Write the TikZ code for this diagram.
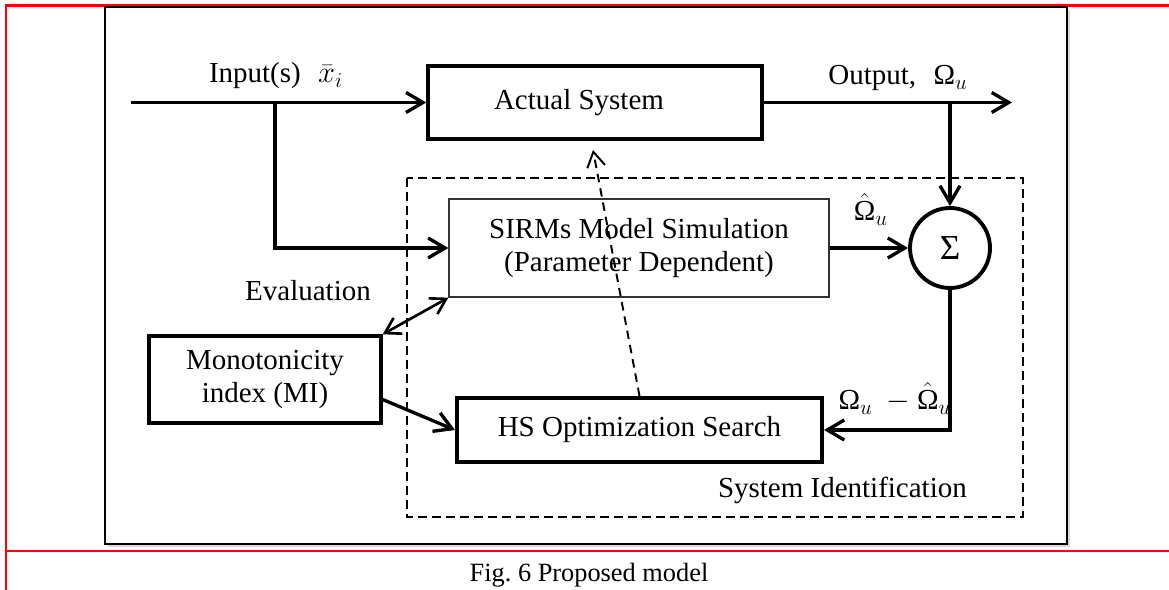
\documentclass[tikz,border=0pt]{standalone}
\usepackage{fontspec}
\setmainfont{Liberation Serif}
\usetikzlibrary{arrows.meta,calc}
\newcommand{\Om}{\hbox{Ω}}
\begin{document}
\begin{tikzpicture}[x=0.02cm,y=-0.02cm,
  txt/.style={font=\fontsize{16.5}{18.7}\selectfont},
  thickbox/.style={draw, line width=2pt, inner sep=0pt, txt, align=center},
  barb/.style={-{Straight Barb[length=0.34cm,width=0.4cm]}},
  conn/.style={line width=1.9pt, barb},
  dashframe/.style={line width=1.1pt, dash pattern=on 0.18cm off 0.1cm},
]
\useasboundingbox (0,0) rectangle (1169,590);
% page rules
\draw[red, line width=1.2pt] (6,590) -- (6,5.5) -- (1169,5.5);
\draw[red, line width=1.3pt] (6,551) -- (1169,551);
% outer frame with faint shadow
\draw[black!15, line width=1pt] (1069,10) -- (1069,546) -- (108,546);
\draw[line width=1.2pt] (105,7) rectangle (1067,544);
% system identification frame
\draw[dashframe] (407,178) rectangle (1023,517);

% blocks
\node[thickbox, minimum width=6.68cm, minimum height=1.46cm,
      label={[txt,xshift=-0.32cm]center:Actual System}] (actual) at (595,102.5) {};
\node[draw=black!80, line width=0.75pt, minimum width=7.6cm, minimum height=1.96cm,
      inner sep=0pt, txt, align=center] (sirms) at (639,248)
      {SIRMs Model Simulation\\(Parameter Dependent)};
\node[circle, draw, line width=2.2pt, minimum size=1.6cm, inner sep=0pt,
      font=\fontsize{20}{22}\selectfont] (sum) at (950,248) {Σ};
\node[thickbox, line width=2.3pt, minimum width=7.3cm, minimum height=1.28cm] (hs) at (639.5,430) {HS Optimization Search};
\node[thickbox, line width=1.9pt, minimum width=4.64cm, minimum height=1.74cm] (mi) at (265,379.5) {Monotonicity\\index (MI)};

% coordinates
\coordinate (inStart) at (131,102.5);
\coordinate (split) at (275,102.5);
\coordinate (outEnd) at (1012,102.5);
\coordinate (osplit) at (950,102.5);
\coordinate (dtip) at (593,150);

% connectors
\draw[conn] (inStart) -- (actual.west);
\draw[conn] (split) |- (sirms.west);
\draw[conn] (actual.east) -- (outEnd);
\draw[conn] (osplit) -- (sum.north);
\draw[conn] (sirms.east) -- (sum.west);
\draw[conn] (sum.south) |- (hs.east);
\draw[line width=1.1pt, dash pattern=on 0.17cm off 0.12cm, -{Straight Barb[length=0.3cm,width=0.36cm]}] (hs.north) -- (dtip);
\draw[line width=1.5pt, {Straight Barb[length=0.3cm,width=0.36cm]}-{Straight Barb[length=0.3cm,width=0.36cm]}] (mi.north east) -- (sirms.south west);
\draw[conn] ($(mi.east)+(0,20)$) -- (hs.west);

% labels
\node[txt, anchor=base] (inlbl) at (276,83) {Input(s)\hspace{0.6em}$\bar{x}_i$};
\node[txt, anchor=base] (outlbl) at (898,85) {Output,\hspace{0.6em}$\Om_u$};
\node[txt, anchor=base] (hatlbl) at (871,221) {$\hat{\Om}_u$};
\node[txt, anchor=base] (difflbl) at (895,410) {$\Om_{u}\ -\hat{\Om}_{u}$};
\node[txt, anchor=base] (evallbl) at (308,301) {Evaluation};
\node[txt, anchor=base east] (silbl) at (973,498) {System Identification};
\node[font=\fontsize{15}{18}\selectfont, anchor=base] (caption) at (589,582) {Fig.\ 6 Proposed model};
\end{tikzpicture}
\end{document}
